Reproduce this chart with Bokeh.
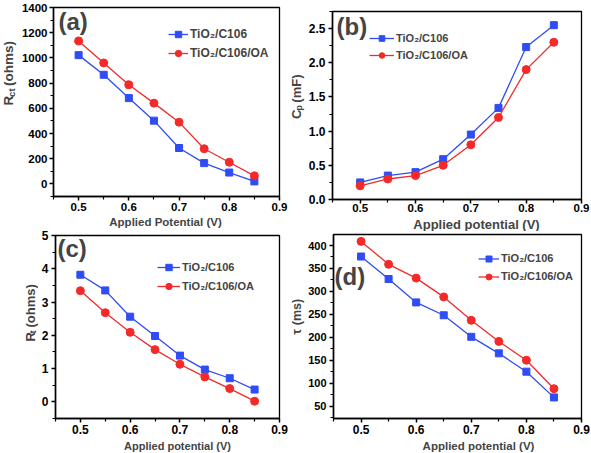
import math
from bokeh.plotting import figure
from bokeh.models import Range1d, FixedTicker, Label, Legend, LegendItem, PrintfTickFormatter
from bokeh.layouts import column, row
from bokeh.embed import file_html
from bokeh.resources import INLINE

# ---------------- data ----------------
potential = [0.50, 0.55, 0.60, 0.65, 0.70, 0.75, 0.80, 0.85]
series_names = ["TiO\u2082/C106", "TiO\u2082/C106/OA"]

rct_c106 = [1022, 866, 681, 502, 285, 165, 90, 20]
rct_oa = [1135, 960, 787, 641, 490, 279, 172, 64]

cp_c106 = [0.25, 0.35, 0.40, 0.59, 0.95, 1.34, 2.23, 2.55]
cp_oa = [0.20, 0.30, 0.35, 0.50, 0.80, 1.20, 1.90, 2.30]

rt_c106 = [3.82, 3.35, 2.56, 1.98, 1.39, 0.97, 0.71, 0.37]
rt_oa = [3.34, 2.68, 2.09, 1.57, 1.13, 0.75, 0.40, 0.02]

tau_c106 = [376, 327, 276, 248, 201, 165, 125, 69]
tau_oa = [409, 359, 329, 288, 237, 191, 150, 88]

x_major = [0.5, 0.6, 0.7, 0.8, 0.9]
x_minor = [0.45, 0.55, 0.65, 0.75, 0.85]

a_y_major = [0, 200, 400, 600, 800, 1000, 1200, 1400]
a_y_minor = [-100, 100, 300, 500, 700, 900, 1100, 1300]
b_y_major = [0.0, 0.5, 1.0, 1.5, 2.0, 2.5]
b_y_minor = [0.25, 0.75, 1.25, 1.75, 2.25, 2.75]
c_y_major = [0, 1, 2, 3, 4, 5]
c_y_minor = [-0.5, 0.5, 1.5, 2.5, 3.5, 4.5]
d_y_major = [50, 100, 150, 200, 250, 300, 350, 400]
d_y_minor = [25, 75, 125, 175, 225, 275, 325, 375, 425]

x_title_a = "Applied Potential (V)"
x_title_other = "Applied potential (V)"

BLUE = "#2f4cf5"
RED = "#f42a2a"
FONT = "Liberation Sans"

# approximate bold advance widths (em)
W = {'R': .722, 'c': .556, 't': .333, ' ': .278, '(': .333, ')': .333, 'o': .611,
     'h': .611, 'm': .889, 's': .556, 'C': .722, 'p': .611, 'F': .611, '\u03c4': .55}


def tw(s, size):
    return sum(W.get(ch, .6) for ch in s) * size


def make_panel(width, height, mbl, mbr, mbt, mbb, yr, ymaj, ymin, yfmt, c106, oa,
               xtick_size, ytick_size, xstand, ystand):
    p = figure(width=width, height=height, output_backend="svg", toolbar_location=None,
               x_range=Range1d(0.45, 0.9), y_range=Range1d(*yr),
               min_border_left=mbl, min_border_right=mbr, min_border_top=mbt,
               min_border_bottom=mbb, background_fill_color="white",
               border_fill_color="white", outline_line_color="black",
               outline_line_width=1.3)
    p.grid.visible = False
    p.xaxis.ticker = FixedTicker(ticks=x_major, minor_ticks=x_minor)
    p.yaxis.ticker = FixedTicker(ticks=ymaj, minor_ticks=ymin)
    p.xaxis.formatter = PrintfTickFormatter(format="%.1f")
    p.yaxis.formatter = PrintfTickFormatter(format=yfmt)
    for ax, sz, st in ((p.xaxis[0], xtick_size, xstand), (p.yaxis[0], ytick_size, ystand)):
        ax.axis_line_width = 1.5
        ax.axis_line_color = "black"
        ax.major_tick_line_width = 1.5
        ax.minor_tick_line_width = 1.2
        ax.major_tick_out = 4
        ax.major_tick_in = 0
        ax.minor_tick_out = 3
        ax.minor_tick_in = 0
        ax.major_label_text_font = FONT
        ax.major_label_text_font_style = "bold"
        ax.major_label_text_font_size = f"{sz}px"
        ax.major_label_text_color = "black"
        ax.major_label_standoff = st
    lb = p.line(potential, c106, line_color=BLUE, line_width=1.3)
    sb = p.scatter(potential, c106, marker="square", size=7, fill_color=BLUE, line_color=BLUE)
    lr = p.line(potential, oa, line_color=RED, line_width=1.3)
    sr = p.scatter(potential, oa, marker="circle", size=8, fill_color=RED, line_color=RED)
    return p, [lb, sb], [lr, sr]


def text_fig(width, height):
    f = figure(width=width, height=height, output_backend="svg", toolbar_location=None,
               x_range=Range1d(0, width), y_range=Range1d(0, height),
               x_axis_location=None, y_axis_location=None,
               min_border=0, min_border_left=0, min_border_right=0,
               min_border_top=0, min_border_bottom=0,
               outline_line_color=None, background_fill_color="white",
               border_fill_color="white")
    f.grid.visible = False
    return f


def add_legend(p, rb, rr, loc, gw, gh, fsize):
    lg = Legend(items=[LegendItem(label=series_names[0], renderers=rb),
                       LegendItem(label=series_names[1], renderers=rr)],
                location=loc, border_line_color=None, background_fill_alpha=0,
                padding=0, margin=0, spacing=3, glyph_width=gw, glyph_height=gh,
                label_height=gh, label_standoff=2, label_text_font=FONT,
                label_text_font_style="bold", label_text_font_size=f"{fsize}px")
    p.add_layout(lg)


def add_tag(p, text, x, y):
    p.add_layout(Label(x=x, y=y, x_units="screen", y_units="screen", text=text,
                       text_align="left", text_baseline="middle", text_font=FONT,
                       text_font_style="bold", text_font_size="24px"))


def add_xlabel(f, text, x, y, size):
    f.add_layout(Label(x=x, y=y, text=text,
                       text_align="center", text_baseline="middle", text_font=FONT,
                       text_font_style="bold", text_font_size=f"{size}px"))


def add_ylabel(f, parts, cx, cy, size):
    sub = 0.72
    total = sum(tw(t, size * sub if s else size) for t, s in parts)
    y = cy - total / 2
    for t, s in parts:
        fs = size * sub if s else size
        lead = len(t) - len(t.lstrip(" "))
        y += tw(" " * lead, fs)
        t = t.lstrip(" ")
        bx = cx + (0.2 * size if s else 0)
        f.add_layout(Label(x=bx, y=y, text=t,
                           angle=math.pi / 2, text_align="left", text_baseline="middle",
                           text_font=FONT, text_font_style="bold", text_font_size=f"{fs}px"))
        y += tw(t, fs)


# ---------- (a) ----------
pa, ab, ar = make_panel(270, 215, 32, 9, 7, 19, (-100, 1400), a_y_major, a_y_minor, "%d",
                        rct_c106, rct_oa, 11.5, 11.5, 2, 2)
add_legend(pa, ab, ar, (115, 135), 20, 16, 12)
add_tag(pa, "(a)", 5, 175.5)
ya = text_fig(18, 215)
add_ylabel(ya, [("R", False), ("ct", True), (" (ohms)", False)], 8, 137, 13.5)
sa = text_fig(288, 13)
add_xlabel(sa, x_title_a, 165, 6.5, 11.5)

# ---------- (c) ----------
pc, cb, cr = make_panel(250, 210, 15, 9, 7, 20, (-0.5, 5), c_y_major, c_y_minor, "%d",
                        rt_c106, rt_oa, 12, 12, 2, 3)
add_legend(pc, cb, cr, (102, 124), 23, 16, 11)
add_tag(pc, "(c)", 2, 170)
yc = text_fig(38, 210)
add_ylabel(yc, [("R", False), ("t", True), (" (ohms)", False)], 30, 118, 13)
scc = text_fig(288, 14)
add_xlabel(scc, x_title_other, 177, 7, 11)

# ---------- (b) ----------
pb, bb, br = make_panel(285, 216, 25, 9, 11, 17, (0, 2.75), b_y_major, b_y_minor, "%.1f",
                        cp_c106, cp_oa, 11.5, 12, 0, 3)
add_legend(pb, bb, br, (37, 137), 25, 14, 11)
add_tag(pb, "(b)", 4, 173)
yb = text_fig(17, 216)
add_ylabel(yb, [("C", False), ("p", True), (" (mF)", False)], 7.5, 116, 13)
sb_ = text_fig(302, 15)
add_xlabel(sb_, x_title_other, 188, 7.5, 13)

# ---------- (d) ----------
pd, db, dr = make_panel(285, 207, 27, 9, 3, 20, (23, 424), d_y_major, d_y_minor, "%d",
                        tau_c106, tau_oa, 12, 11, 2, 3)
add_legend(pd, db, dr, (145, 134.5), 21, 15, 11)
add_tag(pd, "(d)", 1, 142.5)
yd = text_fig(17, 207)
add_ylabel(yd, [("\u03c4", False), (" (ms)", False)], 8, 113, 12.5)
sd = text_fig(302, 14)
add_xlabel(sd, x_title_other, 190, 7, 11.5)

left = column(row(ya, pa), sa, row(yc, pc), scc)
right = column(row(yb, pb), sb_, row(yd, pd), sd)
layout = row(left, right)
open("out.html", "w").write(file_html(layout, INLINE))
